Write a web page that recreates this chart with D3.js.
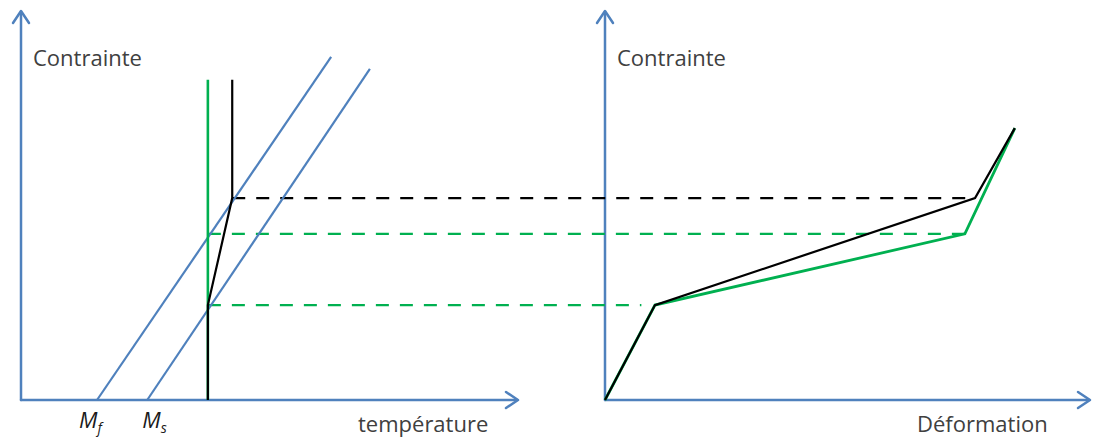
<!DOCTYPE html>
<html><head><meta charset="utf-8">
<script src="https://cdn.jsdelivr.net/npm/d3@7"></script>
<style>body{margin:0;background:#fff}svg{display:block}text{font-family:"Open Sans",sans-serif;fill:#404040}</style>
</head><body><svg id="c" width="1094" height="437"></svg>
<script>
// ---- data (arbitrary units) ----
const axisLabels = {leftY:"Contrainte", leftX:"température", rightY:"Contrainte", rightX:"Déformation"};
const tempMarks = [{name:"M", sub:"f", t:15.3},{name:"M", sub:"s", t:25.4}];
// blue transformation lines (temperature, stress)
const blueLine1 = [[15.3,0],[62.4,88.2]];
const blueLine2 = [[25.4,0],[70.2,85.1]];
// temperature paths
const greenTempPath = [[37.6,0],[37.6,82.3]];
const blackTempPath = [[37.6,0],[37.6,24.4],[42.5,51.9],[42.5,82.3]];
// stress levels
const stressLevels = [
  {s:51.9, t:42.5, e:76.3, color:"black"},
  {s:42.7, t:37.6, e:74.2, color:"green"},
  {s:24.4, t:37.6, e:7.5, color:"green"}
];
// strain–stress curves
const greenCurve = [[0,0],[10.3,24.4],[74.2,42.7],[84.5,69.9]];
const blackCurve = [[0,0],[10.3,24.4],[76.3,51.9],[84.5,69.9]];

const BLUE="#4f81bd", GREEN="#00b050", BLACK="#000";
const svg = d3.select("#c");
const xT = d3.scaleLinear().domain([0,100]).range([21,518]);
const yS = d3.scaleLinear().domain([0,100]).range([400,11]);
const xE = d3.scaleLinear().domain([0,100]).range([605,1090]);

function arrowAxes(x0,x1,y0,y1){
  const g = svg.append("g").attr("stroke",BLUE).attr("stroke-width",2.5).attr("fill","none").attr("stroke-linecap","round").attr("stroke-linejoin","round");
  g.append("line").attr("x1",x0).attr("y1",y0).attr("x2",x0).attr("y2",y1+1);
  g.append("line").attr("x1",x0).attr("y1",y0).attr("x2",x1-1).attr("y2",y0);
  g.append("path").attr("d",`M${x0-8},${y1+12}L${x0},${y1}L${x0+8},${y1+12}`);
  g.append("path").attr("d",`M${x1-12},${y0-8}L${x1},${y0}L${x1-12},${y0+8}`);
}
arrowAxes(xT(0), xT(100), yS(0), yS(100));
arrowAxes(xE(0), xE(100), yS(0), yS(100));

const lineT = d3.line().x(d=>xT(d[0])).y(d=>yS(d[1]));
const lineE = d3.line().x(d=>xE(d[0])).y(d=>yS(d[1]));

// dashed levels
stressLevels.forEach(l=>{
  svg.append("line").attr("x1",xT(l.t)).attr("x2",xE(l.e)).attr("y1",yS(l.s)).attr("y2",yS(l.s))
    .attr("stroke", l.color==="green"?GREEN:BLACK).attr("stroke-width",2.4).attr("stroke-dasharray","13,11");
});

[blueLine1,blueLine2].forEach(d=>svg.append("path").attr("d",lineT(d)).attr("stroke",BLUE).attr("stroke-width",2.2).attr("fill","none"));
svg.append("path").attr("d",lineT(greenTempPath)).attr("stroke",GREEN).attr("stroke-width",2.6).attr("fill","none");
svg.append("path").attr("d",lineT(blackTempPath)).attr("stroke",BLACK).attr("stroke-width",2.2).attr("fill","none");

svg.append("path").attr("d",lineE(greenCurve)).attr("stroke",GREEN).attr("stroke-width",2.8).attr("fill","none");
svg.append("path").attr("d",lineE(blackCurve)).attr("stroke",BLACK).attr("stroke-width",2.2).attr("fill","none");

// labels
const fs = 22;
svg.append("text").attr("x",33).attr("y",66).attr("font-size",fs).text(axisLabels.leftY);
svg.append("text").attr("x",617).attr("y",66).attr("font-size",fs).text(axisLabels.rightY);
svg.append("text").attr("x",358).attr("y",432).attr("font-size",fs).text(axisLabels.leftX);
svg.append("text").attr("x",917).attr("y",432).attr("font-size",fs).text(axisLabels.rightX);
const markOffsets = [-18,-5];
tempMarks.forEach((m,i)=>{
  const t = svg.append("text").attr("x",xT(m.t)+markOffsets[i]).attr("y",428).attr("font-size",22).attr("font-style","italic").style("fill","#1a1a1a");
  t.append("tspan").text(m.name);
  t.append("tspan").attr("dy",5).attr("font-size",14).text(m.sub);
});
</script></body></html>
